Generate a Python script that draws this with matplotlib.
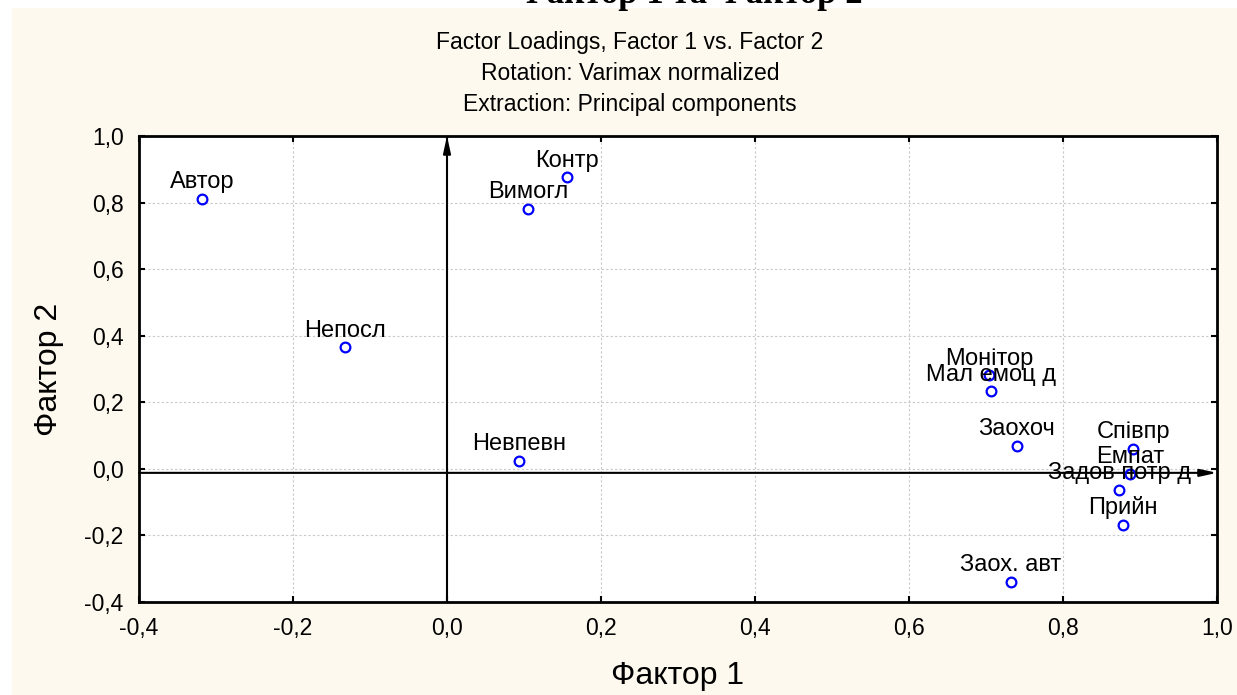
import matplotlib.pyplot as plt
import matplotlib.ticker as ticker
from matplotlib.patches import Rectangle

########################################################
# Data: factor loadings
########################################################

names = ['Автор', 'Непосл', 'Контр', 'Вимогл', 'Невпевн', 'Монітор',
         'Мал емоц д', 'Заохоч', 'Співпр', 'Емпат', 'Задов потр д',
         'Прийн', 'Заох. авт']
factor1 = [-0.318, -0.132, 0.156, 0.105, 0.094, 0.704,
           0.707, 0.740, 0.891, 0.887, 0.873, 0.878, 0.732]
factor2 = [0.811, 0.366, 0.877, 0.781, 0.024, 0.282,
           0.234, 0.069, 0.060, -0.015, -0.063, -0.168, -0.339]

x_ticks = [-0.4, -0.2, 0.0, 0.2, 0.4, 0.6, 0.8, 1.0]
y_ticks = [-0.4, -0.2, 0.0, 0.2, 0.4, 0.6, 0.8, 1.0]
title_lines = ['Factor Loadings, Factor 1 vs. Factor 2',
               'Rotation: Varimax normalized',
               'Extraction: Principal components']

plt.rcParams['font.family'] = ['Liberation Sans', 'DejaVu Sans']

W, H = 1237, 695
fig = plt.figure(figsize=(W / 100, H / 100), dpi=100, facecolor='white')

# cream panel behind everything
fig.patches.append(Rectangle((12 / W, 0), 1, 1 - 8 / H, transform=fig.transFigure,
                             facecolor='#fef9ee', edgecolor='none', zorder=-10))

# heading from the page above, cut by the top edge
fig.text(690 / W, 1 - 3 / H, 'Фактор 1 та Фактор 2', ha='center', va='baseline',
         fontsize=25, fontweight='bold', family=['Liberation Serif', 'DejaVu Serif'])

ax = fig.add_axes([139 / W, 1 - 602 / H, 1078 / W, 466 / H])
ax.set_facecolor('white')


def comma(val, pos):
    return f'{val:.1f}'.replace('.', ',')


ax.xaxis.set_major_formatter(ticker.FuncFormatter(comma))
ax.yaxis.set_major_formatter(ticker.FuncFormatter(comma))
ax.set_xticks(x_ticks)
ax.set_yticks(y_ticks)
ax.set_xlim(-0.4, 1.0)
ax.set_ylim(-0.4, 1.0)
ax.tick_params(direction='in', length=4, width=1.5, top=True, right=True,
               labelsize=16.5, colors='black')
ax.tick_params(axis='x', pad=11)
ax.tick_params(axis='y', pad=11)
ax.grid(True, color='#c8c8c8', linestyle=(0, (2, 2)), linewidth=0.8)
for sp in ax.spines.values():
    sp.set_linewidth(2)
    sp.set_color('black')

# axis arrows
ax.annotate('', xy=(0.0, 1.0), xytext=(0.0, -0.4),
            arrowprops=dict(arrowstyle='-|>,head_length=1.0,head_width=0.22',
                            color='black', lw=1.5, shrinkA=0, shrinkB=0))
ax.annotate('', xy=(1.0, -0.012), xytext=(-0.4, -0.012),
            arrowprops=dict(arrowstyle='-|>,head_length=1.0,head_width=0.22',
                            color='black', lw=1.5, shrinkA=0, shrinkB=0))

ax.plot(factor1, factor2, 'o', markersize=7, markerfacecolor='none',
        markeredgecolor='#0000ff', markeredgewidth=1.6, zorder=5)
for name, x, y in zip(names, factor1, factor2):
    ax.annotate(name, (x, y), xytext=(0, 7.5), textcoords='offset points',
                ha='center', va='baseline', fontsize=17, zorder=6)

ax.set_xlabel('Фактор 1', fontsize=23, labelpad=15)
ax.set_ylabel('Фактор 2', fontsize=23, labelpad=15)

for i, line in enumerate(title_lines):
    fig.text(630 / W, 1 - (42 + 31 * i) / H, line, ha='center', va='center',
             fontsize=16.5)

fig.savefig('out.png', dpi=100, facecolor=fig.get_facecolor())
